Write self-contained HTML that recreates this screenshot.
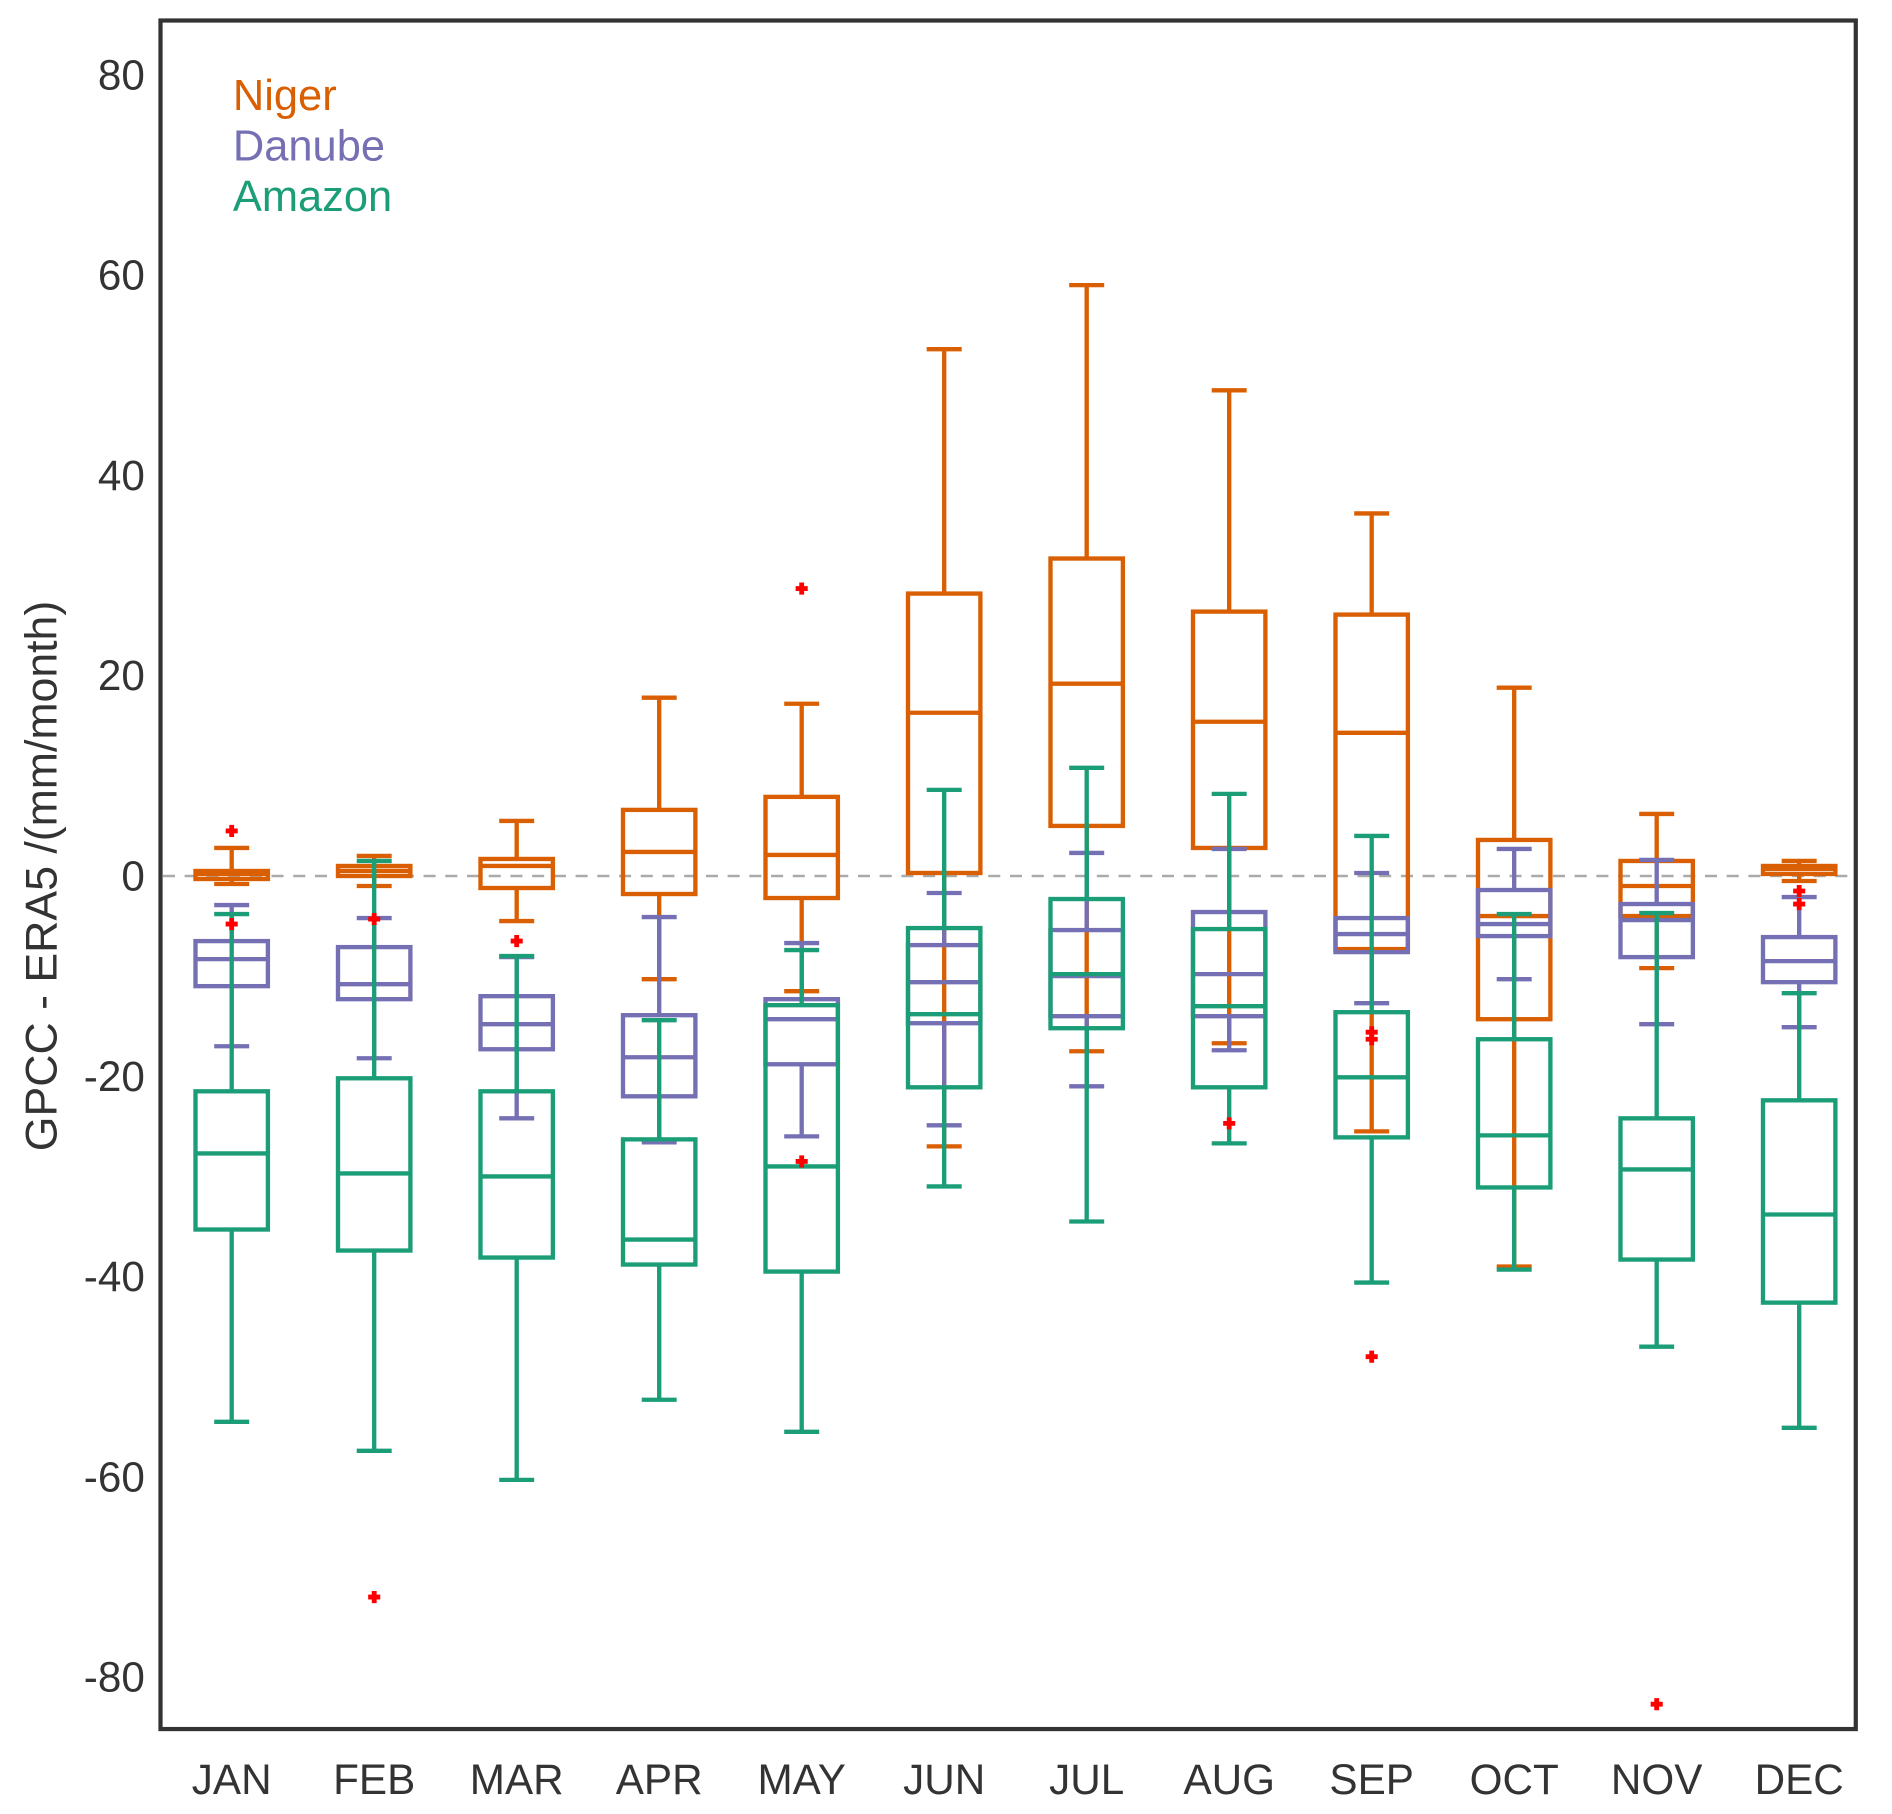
<!DOCTYPE html>
<html><head><meta charset="utf-8"><style>
html,body{margin:0;padding:0;background:#fff;}
svg{display:block;font-family:"Liberation Sans",sans-serif;}
</style></head><body>
<svg id="chart" width="1892" height="1814" viewBox="0 0 1568 1503.4" xmlns="http://www.w3.org/2000/svg">
<g id="grid"></g>
<g id="boxes"></g>
<rect x="133" y="17" width="1405" height="1416" fill="none" stroke="#333" stroke-width="3.5"/>
<g id="axes"></g>
<text transform="translate(47,726) rotate(-90)" text-anchor="middle" font-size="37" fill="#333">GPCC - ERA5 /(mm/month)</text>
<text x="193" y="91" font-size="36" fill="#d95f02">Niger</text>
<text x="193" y="133" font-size="36" fill="#7570b3">Danube</text>
<text x="193" y="175" font-size="36" fill="#1b9e77">Amazon</text>
</svg>
<script>
const months = ["JAN","FEB","MAR","APR","MAY","JUN","JUL","AUG","SEP","OCT","NOV","DEC"];
const yTicks = [80,60,40,20,0,-20,-40,-60,-80];
// [whiskerLow, q1, median, q3, whiskerHigh]
const nigerStats = [[-0.8,-0.3,0.2,0.5,2.8],[-1,0,0.5,1,2],[-4.5,-1.2,1,1.7,5.5],[-10.3,-1.8,2.4,6.6,17.8],[-11.5,-2.2,2.1,7.9,17.2],[-27,0.3,16.3,28.2,52.6],[-17.5,5,19.2,31.7,59],[-16.7,2.8,15.4,26.4,48.5],[-25.5,-7.3,14.3,26.1,36.2],[-39,-14.3,-4,3.6,18.8],[-9.2,-4,-1,1.5,6.2],[-0.5,0.2,0.7,1,1.5]];
const danubeStats = [[-17,-11,-8.3,-6.5,-2.9],[-18.2,-12.3,-10.8,-7.1,-4.2],[-24.2,-17.3,-14.8,-12,-8.1],[-26.6,-22,-18.1,-13.9,-4.1],[-26,-18.8,-14.3,-12.3,-6.7],[-24.9,-14.7,-10.6,-6.9,-1.7],[-21,-14,-10,-5.4,2.3],[-17.4,-14,-9.8,-3.6,2.7],[-12.7,-7.6,-5.8,-4.2,0.3],[-10.3,-6,-4.8,-1.4,2.7],[-14.8,-8.1,-4.4,-2.8,1.6],[-15.1,-10.6,-8.5,-6.1,-2.1]];
const amazonStats = [[-54.5,-35.3,-27.7,-21.5,-3.8],[-57.4,-37.4,-29.7,-20.2,1.5],[-60.3,-38.1,-30,-21.5,-8],[-52.3,-38.8,-36.3,-26.3,-14.4],[-55.5,-39.5,-29,-12.9,-7.4],[-31,-21.1,-13.8,-5.2,8.6],[-34.5,-15.2,-9.8,-2.3,10.8],[-26.7,-21.1,-13,-5.3,8.2],[-40.6,-26.1,-20.1,-13.6,4],[-39.3,-31.1,-25.9,-16.3,-3.8],[-47,-38.3,-29.3,-24.2,-3.7],[-55.1,-42.6,-33.8,-22.4,-11.7]];
// outliers: [monthIndex, value]
const outliers = [[0,4.5],[0,-4.8],[1,-4.3],[1,-72],[2,-6.5],[4,28.7],[4,-28.5],[7,-24.7],[8,-15.6],[8,-16.3],[8,-48],[10,-82.7],[11,-1.5],[11,-2.8]];

const NS="http://www.w3.org/2000/svg";
const y = v => 726 - 8.3*v;
const x = i => 192 + i*118.1;
function mk(tag, attrs, parent){const e=document.createElementNS(NS,tag);for(const k in attrs)e.setAttribute(k,attrs[k]);parent.appendChild(e);return e;}
const grid=document.getElementById('grid'), boxes=document.getElementById('boxes'), axes=document.getElementById('axes');
const zl = mk('line',{x1:135,x2:1536,y1:y(0),y2:y(0),stroke:'#aaa','stroke-width':2,'stroke-dasharray':'10 8'},grid);


yTicks.forEach(v=>{
  const t=mk('text',{x:120,y:y(v)+12,'text-anchor':'end','font-size':35,fill:'#333'},axes);
  t.textContent=v;
  
  
});
months.forEach((m,i)=>{
  const t=mk('text',{x:x(i),y:1487,'text-anchor':'middle','font-size':35,fill:'#333'},axes);
  t.textContent=m;
  
  
});
const series=[["niger",nigerStats,"#d95f02"],["danube",danubeStats,"#7570b3"],["amazon",amazonStats,"#1b9e77"]];
const hw=30, cw=14.5;
series.forEach(([name,stats,col])=>{
  stats.forEach((s,i)=>{
    const g=mk('g',{stroke:col,'stroke-width':3.6,fill:'none'},boxes);
    
    
    const cx=x(i);
    mk('line',{x1:cx,x2:cx,y1:y(s[0]),y2:y(s[1])},g);
    mk('line',{x1:cx,x2:cx,y1:y(s[3]),y2:y(s[4])},g);
    mk('line',{x1:cx-cw,x2:cx+cw,y1:y(s[0]),y2:y(s[0])},g);
    mk('line',{x1:cx-cw,x2:cx+cw,y1:y(s[4]),y2:y(s[4])},g);
    mk('rect',{x:cx-hw,y:y(s[3]),width:2*hw,height:Math.max(1,y(s[1])-y(s[3]))},g);
    mk('line',{x1:cx-hw,x2:cx+hw,y1:y(s[2]),y2:y(s[2])},g);
  });
});
outliers.forEach(([i,v])=>{
  const p=mk('path',{d:`M${x(i)-5},${y(v)}h10M${x(i)},${y(v)-5}v10`,stroke:'#f00','stroke-width':4},boxes);
  
  
});
</script>
</body></html>
